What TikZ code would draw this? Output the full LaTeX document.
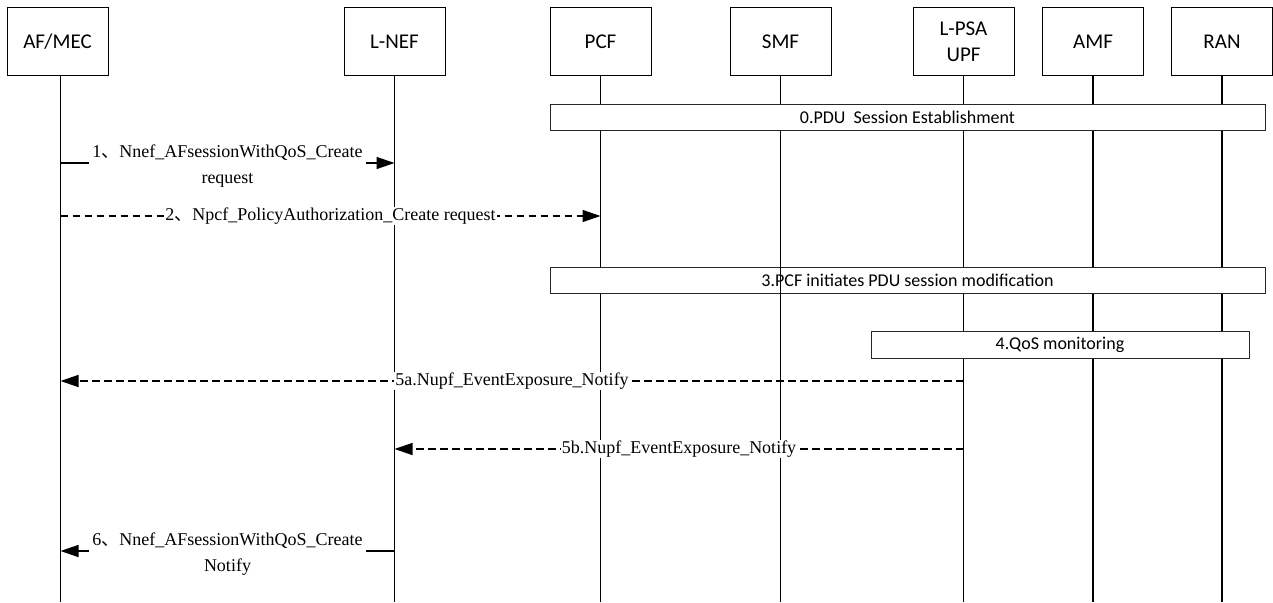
\documentclass[tikz,border=0pt]{standalone}
\usepackage{fontspec}
\setmainfont{Liberation Serif}
\newfontfamily\boxfont{Carlito}
\newfontfamily\cjkfont{Noto Sans CJK SC}
\usetikzlibrary{arrows.meta}
\newcommand{\dun}{{\cjkfont 、}}

\begin{document}
\begin{tikzpicture}[x=1pt,y=-1pt,
  entity/.style={draw, line width=1pt, minimum width=101pt, minimum height=67pt,
    font=\boxfont\fontsize{21}{26}\selectfont, align=center, inner sep=0pt},
  life/.style={line width=1.4pt},
  phase/.style={draw=black!85, line width=1pt, fill=white, inner sep=0pt,
    font=\boxfont\fontsize{18}{22}\selectfont},
  msg/.style={line width=1.4pt, -{Triangle[length=18pt,width=12pt]}},
  dmsg/.style={msg, dash pattern=on 7.5pt off 4.5pt},
  lbl/.style={fill=white, font=\fontsize{18}{26}\selectfont, align=center, inner sep=1pt},
  lbltwo/.style={lbl, inner sep=3pt, yshift=-3pt},
]
\useasboundingbox (0,0) rectangle (1273,602);

% network functions
\node[entity] (af)  at (57.5,41.5)  {AF/MEC};
\node[entity] (nef) at (394.5,41.5) {L-NEF};
\node[entity] (pcf) at (600.5,41.5) {PCF};
\node[entity] (smf) at (780.5,41.5) {SMF};
\node[entity] (upf) at (963.5,41.5) {L-PSA\\UPF};
\node[entity] (amf) at (1093,41.5)  {AMF};
\node[entity] (ran) at (1222,41.5)  {RAN};

% lifelines
\coordinate (bottom) at (0,602);
\coordinate (afT) at ([xshift=3pt]af.south);
\draw[life] (afT) -- (afT |- bottom);
\foreach \n in {nef,pcf,smf,upf,amf,ran}
  \draw[life] (\n.south) -- (\n.south |- bottom);

% procedure bars
\node[phase, minimum width=715pt, minimum height=26pt] (p0) at (907.5,117)
  {0.PDU\ \ Session Establishment};
\node[phase, minimum width=715pt, minimum height=26pt] (p3) at (907.5,280)
  {3.PCF initiates PDU session modification};
\draw[life] (smf.south |- p3.north) -- (smf.south |- p3.south);
\node[phase, minimum width=378pt, minimum height=27pt] (p4) at (1060,344.5)
  {4.QoS monitoring};

% message end points
\coordinate (m1a) at (afT |- 0,163);  \coordinate (m1b) at (nef.south |- 0,163);
\coordinate (m2a) at (afT |- 0,216);  \coordinate (m2b) at (pcf.south |- 0,216);
\coordinate (m5a) at (upf.south |- 0,381); \coordinate (m5b) at (afT |- 0,381);
\coordinate (m5c) at (upf.south |- 0,449); \coordinate (m5d) at (nef.south |- 0,449);
\coordinate (m6a) at (nef.south |- 0,551); \coordinate (m6b) at (afT |- 0,551);

% messages
\draw[msg] (m1a) -- (m1b)
  node[midway, lbltwo] (t1) {1\dun Nnef\_AFsessionWithQoS\_Create\\request};
\draw[dmsg] (m2a) -- (m2b)
  node[midway, lbl] (t2) {2\dun Npcf\_PolicyAuthorization\_Create request};
\draw[dmsg] (m5a) -- (m5b)
  node[midway, lbl] (t5a) {5a.Nupf\_EventExposure\_Notify};
\draw[dmsg] (m5c) -- (m5d)
  node[midway, lbl] (t5b) {5b.Nupf\_EventExposure\_Notify};
\draw[msg] (m6a) -- (m6b)
  node[midway, lbltwo] (t6) {6\dun Nnef\_AFsessionWithQoS\_Create\\Notify};
\end{tikzpicture}
\end{document}
